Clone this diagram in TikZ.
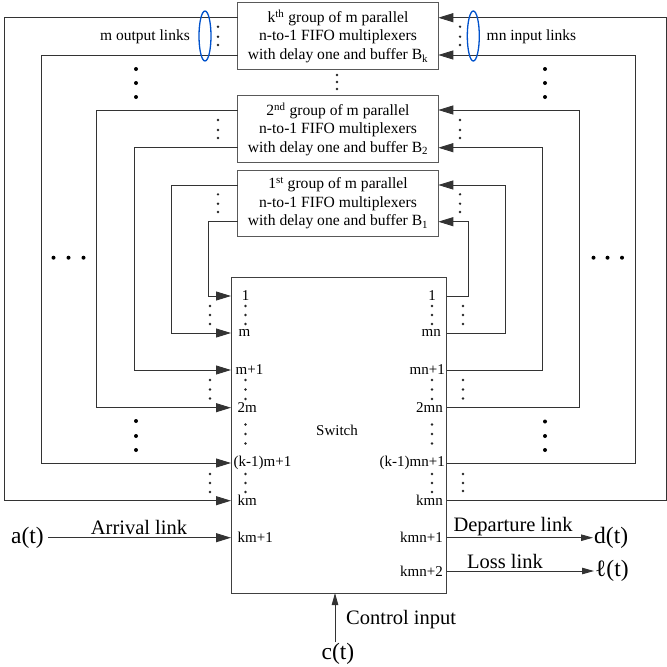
\documentclass[tikz,border=0pt]{standalone}
\usepackage{fontspec}
\setmainfont{Liberation Serif}
\usetikzlibrary{arrows.meta}
\newcommand\sdots[2]{\foreach \yy in {#2} \fill[black!85] (#1,\yy) circle (1.3pt);}
\newcommand\bdots[2]{\foreach \yy in {#2} \fill[black] (#1,\yy) circle (2pt);}
\newcommand\hbdots[2]{\foreach \xx in {#1} \fill[black] (\xx,#2) circle (2pt);}
\begin{document}
\begin{tikzpicture}[x=1pt,y=-1pt,
  line/.style={draw=black!80, line width=0.9pt},
  arr/.style={line, -{Triangle[length=15pt,width=9pt]}},
  arrs/.style={line, -{Triangle[length=12pt,width=6.5pt]}},
  grp/.style={draw=black!65, line width=1pt, minimum width=200.6pt, minimum height=66.5pt,
    inner sep=0pt, align=center, font=\fontsize{15.6}{18.5}\selectfont},
  swbox/.style={draw=black!75, line width=1pt, minimum width=215.7pt, minimum height=315.3pt, inner sep=0pt},
  port/.style={font=\fontsize{15}{16}\selectfont, inner sep=0pt},
  lbl/.style={font=\fontsize{20.5}{22}\selectfont, inner sep=0pt},
  sig/.style={font=\fontsize{23.5}{25}\selectfont, inner sep=1pt},
  grplbl/.style={font=\fontsize{15.5}{16}\selectfont, inner sep=0pt},
  oval/.style={draw=blue!60!cyan!80!black, line width=1.3pt}
]
\useasboundingbox (0,0) rectangle (667,667);
\fill[white] (0,0) rectangle (667,667);

% group boxes
\node[grp] (bk) at (338,36.2) {k\textsuperscript{th} group of m parallel\\n-to-1 FIFO multiplexers\\with delay one and buffer B\textsubscript{k}};
\node[grp] (b2) at (338,129.2) {2\textsuperscript{nd} group of m parallel\\n-to-1 FIFO multiplexers\\with delay one and buffer B\textsubscript{2}};
\node[grp] (b1) at (338,203.3) {1\textsuperscript{st} group of m parallel\\n-to-1 FIFO multiplexers\\with delay one and buffer B\textsubscript{1}};

% switch
\node[swbox] (sw) at (338.85,435.35) {};
\node[port] (swl) at (337,430) {Switch};

% box port coordinates
\coordinate (bkL1) at (237.7,55);    \coordinate (bkL2) at (237.7,17.7);
\coordinate (b2L1) at (237.7,147.7); \coordinate (b2L2) at (237.7,110);
\coordinate (b1L1) at (237.7,221.7); \coordinate (b1L2) at (237.7,185);
\coordinate (bkR1) at (438.3,55);    \coordinate (bkR2) at (438.3,17.7);
\coordinate (b2R1) at (438.3,147.7); \coordinate (b2R2) at (438.3,110);
\coordinate (b1R1) at (438.3,221.7); \coordinate (b1R2) at (438.3,185);

% switch port coordinates
\coordinate (sL1)  at (231,296);   \coordinate (sR1)  at (446.7,296);
\coordinate (sLm)  at (231,333);   \coordinate (sRmn) at (446.7,333);
\coordinate (sLm1) at (231,370);   \coordinate (sRmn1) at (446.7,370);
\coordinate (sL2m) at (231,407.7); \coordinate (sR2mn) at (446.7,407.7);
\coordinate (sLk1) at (231,463);   \coordinate (sRk1) at (446.7,463);
\coordinate (sLkm) at (231,500.7); \coordinate (sRkmn) at (446.7,500.7);
\coordinate (sLa)  at (231,537.7); \coordinate (sRd) at (446.7,537.7);
\coordinate (sRl)  at (446.7,571);
\coordinate (sC)   at (335,593);

% feedback: outputs of groups into switch (left)
\draw[arr] (b1L1) -- ++(-29.7,0) |- (sL1);
\draw[arr] (b1L2) -- ++(-66.7,0) |- (sLm);
\draw[arr] (b2L1) -- ++(-103.7,0) |- (sLm1);
\draw[arr] (b2L2) -- ++(-141,0) |- (sL2m);
\draw[arr] (bkL1) -- ++(-196.7,0) |- (sLk1);
\draw[arr] (bkL2) -- ++(-233.7,0) |- (sLkm);

% switch outputs into groups (right)
\draw[arr] (sR1) -- ++(21.3,0) |- (b1R1);
\draw[arr] (sRmn) -- ++(58.9,0) |- (b1R2);
\draw[arr] (sRmn1) -- ++(95.3,0) |- (b2R1);
\draw[arr] (sR2mn) -- ++(132.3,0) |- (b2R2);
\draw[arr] (sRk1) -- ++(188.3,0) |- (bkR1);
\draw[arr] (sRkmn) -- ++(219.3,0) |- (bkR2);

% external links
\node[sig, anchor=east] (at) at (45,537.7) {a(t)};
\draw[arr] (at.east) ++(3,0) -- (sLa);
\node[lbl] (arl) at (139,527) {Arrival link};
\node[sig, anchor=west] (dt) at (593,537.7) {d(t)};
\draw[arrs] (sRd) -- (dt.west);
\node[lbl] (dpl) at (513,527) {Departure link};
\node[sig, anchor=west] (lt) at (594,571) {ℓ(t)};
\draw[arrs] (sRl) -- (lt.west);
\node[lbl] (lsl) at (505,561.5) {Loss link};
\node[sig, anchor=north, inner sep=0pt] (ct) at (338,643) {c(t)};
\coordinate (cB) at (335,642);
\draw[arrs] (cB) -- (sC);
\node[lbl, anchor=west] (cil) at (346,620) {Control input};

% port labels left
\node[port] at (245.5,296) {1};
\node[port, anchor=west] at (238.5,333) {m};
\node[port, anchor=west] at (235.5,370) {m+1};
\node[port, anchor=west] at (237.5,407.7) {2m};
\node[port, anchor=west] at (233.5,463) {(k-1)m+1};
\node[port, anchor=west] at (237.5,500.7) {km};
\node[port, anchor=west] at (237.5,537.7) {km+1};
% port labels right
\node[port] at (432,296) {1};
\node[port, anchor=east] at (441,333) {mn};
\node[port, anchor=east] at (445,370) {mn+1};
\node[port, anchor=east] at (443,407.7) {2mn};
\node[port, anchor=east] at (445,463) {(k-1)mn+1};
\node[port, anchor=east] at (443,500.7) {kmn};
\node[port, anchor=east] at (443,537.7) {kmn+1};
\node[port, anchor=east] at (443,571) {kmn+2};

% inner dots
\sdots{245.5}{306,315,324}
\sdots{245.5}{380,389.5,399}
\sdots{245.5}{424.5,434,443.5}
\sdots{245.5}{474,483,492}
\sdots{432}{306,315,324}
\sdots{432}{380,389.5,399}
\sdots{432}{424.5,434,443.5}
\sdots{432}{474,483,492}
% outer small dots
\sdots{210}{306,315,324}
\sdots{210}{380,389.5,398.5}
\sdots{210}{474,483,492}
\sdots{463}{306,315,324}
\sdots{463}{380,389.5,398.5}
\sdots{463}{474,483,491}
% dots next to boxes
\sdots{218}{26.7,36.7,45}
\sdots{460}{26.7,36.7,45}
\sdots{218}{120,130,138}
\sdots{460}{120,130,138}
\sdots{218}{194.3,203.7,212}
\sdots{460}{194.3,203.7,212}
\sdots{337}{75,82,89}
% big dots
\bdots{136}{69,83,97}
\bdots{545}{69,83,97}
\bdots{136}{421,436,450}
\bdots{545}{421.5,436,450}
\hbdots{53.5,68.5,83.5}{257.7}
\hbdots{593.5,607.5,622}{257.7}

% bundles
\draw[oval] (205,36) ellipse [x radius=6pt, y radius=25pt];
\draw[oval] (473.3,36) ellipse [x radius=6pt, y radius=25pt];
\node[grplbl, anchor=east] (mout) at (190,37) {m output links};
\node[grplbl, anchor=west] (minp) at (486.5,37) {mn input links};
\end{tikzpicture}
\end{document}
